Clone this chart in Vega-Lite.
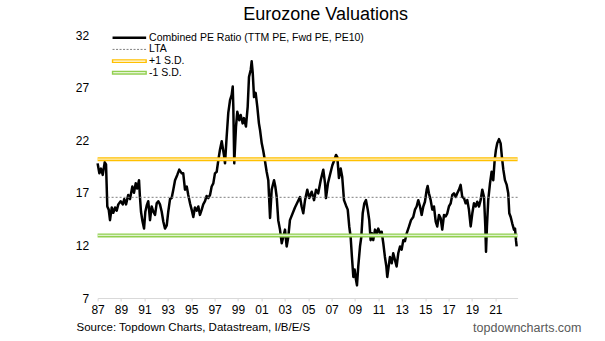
{
  "$schema": "https://vega.github.io/schema/vega-lite/v6.json",
  "width": 420,
  "height": 263,
  "autosize": {"type": "none"},
  "padding": {"left": 97.6, "top": 35, "right": 87.4, "bottom": 43},
  "background": "white",
  "config": {"view": {"stroke": null}},
  "title": {"text": "Eurozone Valuations", "font": "Liberation Sans", "fontSize": 18, "fontWeight": "normal", "color": "#000000", "anchor": "middle", "dx": 18, "offset": 5},
  "datasets": {
    "pe": [
      {"t":1987.0,"v":19.8},{"t":1987.15,"v":18.85},{"t":1987.29,"v":19.3},{"t":1987.44,"v":18.7},{"t":1987.61,"v":19.9},{"t":1987.72,"v":19.7},{"t":1987.83,"v":15.7},{"t":1987.95,"v":15.4},
      {"t":1988.06,"v":14.4},{"t":1988.21,"v":15.6},{"t":1988.34,"v":15.1},{"t":1988.49,"v":15.6},{"t":1988.63,"v":15.3},{"t":1988.77,"v":15.9},{"t":1988.97,"v":16.2},
      {"t":1989.15,"v":15.9},{"t":1989.28,"v":16.4},{"t":1989.43,"v":15.9},{"t":1989.62,"v":16.8},{"t":1989.77,"v":16.4},{"t":1989.97,"v":17.6},
      {"t":1990.11,"v":17.0},{"t":1990.26,"v":17.9},{"t":1990.39,"v":17.4},{"t":1990.54,"v":18.2},{"t":1990.62,"v":16.6},{"t":1990.71,"v":15.2},{"t":1990.82,"v":14.4},{"t":1990.97,"v":13.6},
      {"t":1991.08,"v":15.2},{"t":1991.2,"v":15.8},{"t":1991.33,"v":16.2},{"t":1991.48,"v":14.4},{"t":1991.62,"v":15.7},{"t":1991.76,"v":15.2},{"t":1991.91,"v":14.9},
      {"t":1992.05,"v":16.0},{"t":1992.19,"v":16.2},{"t":1992.33,"v":15.9},{"t":1992.48,"v":15.2},{"t":1992.62,"v":14.25},{"t":1992.76,"v":13.6},{"t":1992.91,"v":13.9},
      {"t":1993.04,"v":15.2},{"t":1993.19,"v":16.4},{"t":1993.33,"v":16.5},{"t":1993.47,"v":17.3},{"t":1993.62,"v":18.2},{"t":1993.81,"v":18.7},{"t":1993.98,"v":19.2},
      {"t":1994.19,"v":18.85},{"t":1994.32,"v":18.85},{"t":1994.47,"v":17.3},{"t":1994.62,"v":17.6},{"t":1994.75,"v":16.8},{"t":1994.9,"v":16.0},
      {"t":1995.04,"v":15.4},{"t":1995.18,"v":14.7},{"t":1995.32,"v":15.6},{"t":1995.47,"v":15.3},{"t":1995.61,"v":15.7},{"t":1995.75,"v":14.9},{"t":1995.9,"v":15.4},
      {"t":1996.03,"v":15.9},{"t":1996.18,"v":16.2},{"t":1996.32,"v":16.7},{"t":1996.46,"v":16.5},{"t":1996.61,"v":16.8},{"t":1996.75,"v":17.6},{"t":1996.89,"v":17.9},
      {"t":1997.03,"v":18.85},{"t":1997.18,"v":19.0},{"t":1997.32,"v":20.1},{"t":1997.46,"v":21.1},{"t":1997.61,"v":21.9},{"t":1997.8,"v":20.6},{"t":1997.89,"v":19.8},
      {"t":1998.03,"v":22.3},{"t":1998.17,"v":24.6},{"t":1998.32,"v":25.8},{"t":1998.46,"v":26.3},{"t":1998.55,"v":27.1},{"t":1998.6,"v":25.2},{"t":1998.68,"v":19.8},{"t":1998.83,"v":23.3},{"t":1998.94,"v":24.7},
      {"t":1999.11,"v":23.9},{"t":1999.23,"v":24.4},{"t":1999.4,"v":23.6},{"t":1999.51,"v":24.1},{"t":1999.68,"v":23.3},{"t":1999.83,"v":25.2},{"t":1999.94,"v":28.0},
      {"t":2000.09,"v":28.7},{"t":2000.17,"v":29.5},{"t":2000.26,"v":28.4},{"t":2000.37,"v":26.1},{"t":2000.51,"v":26.5},{"t":2000.65,"v":25.2},{"t":2000.79,"v":23.6},{"t":2000.88,"v":23.0},
      {"t":2001.03,"v":21.7},{"t":2001.16,"v":21.0},{"t":2001.31,"v":20.0},{"t":2001.45,"v":19.0},{"t":2001.59,"v":18.2},{"t":2001.74,"v":14.6},{"t":2001.88,"v":17.3},
      {"t":2002.08,"v":18.2},{"t":2002.19,"v":17.6},{"t":2002.31,"v":16.6},{"t":2002.44,"v":14.4},{"t":2002.59,"v":13.5},{"t":2002.74,"v":12.2},{"t":2002.87,"v":12.8},
      {"t":2003.02,"v":13.5},{"t":2003.16,"v":11.9},{"t":2003.3,"v":12.8},{"t":2003.44,"v":14.4},{"t":2003.87,"v":15.6},
      {"t":2004.3,"v":16.6},{"t":2004.44,"v":15.7},{"t":2004.58,"v":15.05},{"t":2004.73,"v":16.3},{"t":2004.92,"v":17.3},
      {"t":2005.09,"v":16.5},{"t":2005.3,"v":17.1},{"t":2005.5,"v":16.3},{"t":2005.67,"v":17.3},{"t":2005.86,"v":16.95},
      {"t":2006.07,"v":18.2},{"t":2006.29,"v":19.2},{"t":2006.44,"v":17.9},{"t":2006.52,"v":16.5},{"t":2006.69,"v":17.9},{"t":2006.86,"v":18.7},
      {"t":2007.06,"v":19.6},{"t":2007.23,"v":20.1},{"t":2007.38,"v":20.6},{"t":2007.49,"v":20.4},{"t":2007.63,"v":18.4},{"t":2007.78,"v":19.3},{"t":2007.91,"v":18.5},
      {"t":2008.06,"v":16.3},{"t":2008.23,"v":15.8},{"t":2008.38,"v":15.4},{"t":2008.51,"v":13.8},{"t":2008.63,"v":12.8},{"t":2008.74,"v":10.9},{"t":2008.86,"v":9.0},{"t":2008.97,"v":9.7},
      {"t":2009.09,"v":8.7},{"t":2009.17,"v":8.2},{"t":2009.28,"v":10.0},{"t":2009.43,"v":11.9},{"t":2009.54,"v":12.8},{"t":2009.66,"v":15.05},{"t":2009.8,"v":16.0},{"t":2009.94,"v":16.3},
      {"t":2010.09,"v":15.4},{"t":2010.22,"v":14.4},{"t":2010.34,"v":12.5},{"t":2010.45,"v":13.15},{"t":2010.56,"v":12.5},{"t":2010.71,"v":13.5},{"t":2010.86,"v":13.15},{"t":2010.99,"v":13.6},
      {"t":2011.14,"v":13.15},{"t":2011.28,"v":13.3},{"t":2011.42,"v":12.2},{"t":2011.56,"v":10.9},{"t":2011.68,"v":10.0},{"t":2011.76,"v":9.0},{"t":2011.88,"v":10.0},{"t":2011.99,"v":10.9},
      {"t":2012.14,"v":10.3},{"t":2012.27,"v":11.25},{"t":2012.42,"v":10.6},{"t":2012.56,"v":10.0},{"t":2012.7,"v":11.25},{"t":2012.85,"v":11.9},{"t":2012.99,"v":11.6},
      {"t":2013.13,"v":12.5},{"t":2013.27,"v":12.4},{"t":2013.42,"v":13.15},{"t":2013.62,"v":13.8},{"t":2013.79,"v":14.4},{"t":2013.98,"v":14.7},
      {"t":2014.13,"v":15.4},{"t":2014.27,"v":15.7},{"t":2014.41,"v":16.3},{"t":2014.56,"v":15.7},{"t":2014.7,"v":14.9},{"t":2014.84,"v":15.7},{"t":2014.98,"v":16.15},
      {"t":2015.13,"v":17.3},{"t":2015.21,"v":17.65},{"t":2015.32,"v":16.95},{"t":2015.47,"v":16.3},{"t":2015.61,"v":15.4},{"t":2015.75,"v":15.7},{"t":2015.9,"v":14.25},
      {"t":2016.03,"v":13.8},{"t":2016.18,"v":14.9},{"t":2016.32,"v":14.6},{"t":2016.46,"v":13.5},{"t":2016.61,"v":14.9},{"t":2016.75,"v":14.75},{"t":2016.89,"v":15.05},
      {"t":2017.03,"v":15.7},{"t":2017.18,"v":16.0},{"t":2017.32,"v":16.8},{"t":2017.46,"v":16.95},{"t":2017.61,"v":16.6},{"t":2017.74,"v":16.95},{"t":2017.89,"v":17.3},
      {"t":2018.03,"v":17.75},{"t":2018.17,"v":16.6},{"t":2018.32,"v":16.5},{"t":2018.46,"v":16.0},{"t":2018.6,"v":16.3},{"t":2018.74,"v":15.4},{"t":2018.89,"v":13.8},
      {"t":2019.03,"v":15.05},{"t":2019.17,"v":16.0},{"t":2019.32,"v":15.7},{"t":2019.45,"v":16.15},{"t":2019.6,"v":15.7},{"t":2019.74,"v":16.3},{"t":2019.88,"v":17.3},
      {"t":2020.03,"v":16.6},{"t":2020.14,"v":13.8},{"t":2020.2,"v":11.4},{"t":2020.28,"v":13.8},{"t":2020.39,"v":16.3},{"t":2020.54,"v":17.9},{"t":2020.68,"v":19.0},{"t":2020.82,"v":18.2},{"t":2020.94,"v":20.1},
      {"t":2021.05,"v":21.1},{"t":2021.16,"v":21.7},{"t":2021.31,"v":22.1},{"t":2021.45,"v":21.7},{"t":2021.56,"v":20.4},{"t":2021.68,"v":19.2},{"t":2021.82,"v":18.2},{"t":2021.97,"v":17.75},
      {"t":2022.1,"v":16.95},{"t":2022.19,"v":15.05},{"t":2022.31,"v":14.7},{"t":2022.44,"v":14.1},{"t":2022.59,"v":13.5},{"t":2022.68,"v":13.6},{"t":2022.76,"v":12.5},{"t":2022.82,"v":11.9}
    ],
    "ref": [
      {"series": "LTA", "v": 16.57},
      {"series": "+1 S.D.", "v": 20.2},
      {"series": "-1 S.D.", "v": 12.95}
    ]
  },
  "encoding": {
    "y": {
      "field": "v", "type": "quantitative",
      "scale": {"domain": [7, 32], "nice": false, "zero": false},
      "axis": {
        "values": [7, 12, 17, 22, 27, 32], "domain": false, "ticks": false, "grid": false,
        "labelPadding": 9, "labelFont": "Liberation Sans", "labelFontSize": 12, "labelColor": "#000000",
        "title": "topdowncharts.com", "titleAngle": 0, "titleX": 375, "titleY": 292, "titleAlign": "left", "titleBaseline": "middle",
        "titleFont": "Liberation Sans", "titleFontSize": 12.5, "titleFontWeight": "normal", "titleColor": "#595959"
      }
    }
  },
  "layer": [
    {
      "data": {"name": "pe"},
      "mark": {"type": "line", "strokeWidth": 2.5, "strokeJoin": "round"},
      "encoding": {
        "x": {
          "field": "t", "type": "quantitative",
          "scale": {"domain": [1987, 2022.9], "nice": false, "zero": false},
          "axis": {
            "values": [1987, 1989, 1991, 1993, 1995, 1997, 1999, 2001, 2003, 2005, 2007, 2009, 2011, 2013, 2015, 2017, 2019, 2021],
            "labelExpr": "substring(toString(datum.value), 2, 4)", "labelFlush": false, "labelOverlap": false,
            "grid": false, "domainColor": "#D9D9D9", "tickColor": "#D9D9D9", "tickSize": 3, "labelPadding": 3,
            "labelFont": "Liberation Sans", "labelFontSize": 12, "labelColor": "#000000",
            "title": "Source: Topdown Charts, Datastream, I/B/E/S", "titleX": -21.6, "titleY": 29, "titleAlign": "left", "titleAnchor": "start", "titleBaseline": "middle",
            "titleFont": "Liberation Sans", "titleFontSize": 11.5, "titleFontWeight": "normal", "titleColor": "#000000"
          }
        },
        "color": {
          "datum": "Combined PE Ratio (TTM PE, Fwd PE, PE10)", "type": "nominal",
          "scale": {"domain": ["Combined PE Ratio (TTM PE, Fwd PE, PE10)", "LTA", "+1 S.D.", "-1 S.D."], "range": ["#000000", "#7F7F7F", "#FFC000", "#92D050"]},
          "legend": {
            "title": null, "orient": "none", "legendX": 26.5, "legendY": -2.5,
            "symbolType": "stroke", "symbolSize": 196, "rowPadding": 0.67, "labelLimit": 400,
            "labelFont": "Liberation Sans", "labelFontSize": 10.5, "labelColor": "#000000", "labelOffset": 14.5,
            "encode": {
              "symbols": {
                "update": {
                  "shape": {"signal": "(datum.value == '+1 S.D.' || datum.value == '-1 S.D.') ? 'M-2.4,-0.18H2.4V0.18H-2.4Z' : 'M-2.4,0H2.4'"},
                  "fill": {"signal": "(datum.value == '+1 S.D.' || datum.value == '-1 S.D.') ? '#ffffff' : 'transparent'"},
                  "strokeWidth": {"signal": "datum.value == 'LTA' ? 1 : (datum.value == '+1 S.D.' || datum.value == '-1 S.D.') ? 1.4 : 2.5"},
                  "strokeDash": {"signal": "datum.value == 'LTA' ? [2, 1.5] : []"}
                }
              }
            }
          }
        }
      }
    },
    {
      "data": {"name": "ref"},
      "mark": {"type": "rule"},
      "encoding": {
        "color": {"field": "series", "type": "nominal", "title": null},
        "strokeWidth": {"condition": {"test": "datum.series == 'LTA'", "value": 1}, "value": 4},
        "strokeDash": {"condition": {"test": "datum.series == 'LTA'", "value": [2, 2]}, "value": [1, 0]}
      }
    },
    {
      "data": {"name": "ref"},
      "transform": [{"filter": "datum.series != 'LTA'"}],
      "mark": {"type": "rule", "strokeWidth": 1.2},
      "encoding": {
        "color": {"condition": {"test": "datum.series == '+1 S.D.'", "value": "#FFF0C0"}, "value": "#E0F2CE"}
      }
    }
  ]
}
